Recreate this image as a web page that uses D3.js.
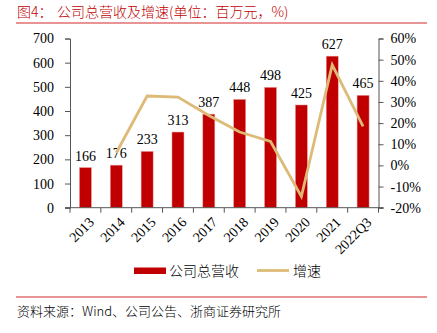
<!DOCTYPE html>
<html><head><meta charset="utf-8">
<script src="https://cdn.jsdelivr.net/npm/d3@7"></script>
<style>
body{margin:0;background:#fff;}
svg{display:block;}
</style></head>
<body>
<svg id="c" width="437" height="333"></svg>
<script>
const categories = ["2013","2014","2015","2016","2017","2018","2019","2020","2021","2022Q3"];
const revenue = [166,176,233,313,387,448,498,425,627,465];
const growth = [null,6.0,32.8,32.3,23.6,15.8,11.3,-14.7,47.5,18.4];
const leftTicks = [0,100,200,300,400,500,600,700];
const rightTicks = [-20,-10,0,10,20,30,40,50,60];

const svg = d3.select("#c");
const serif = "'Liberation Serif','Times New Roman',serif";
const cjk = "'Noto Sans CJK SC',sans-serif";
const x0 = 70, x1 = 378.5, yTop = 38.5, yBot = 207.7;

// Title
svg.append("text").attr("x",17).attr("y",17).attr("fill","#C00000")
  .style("font-family",cjk).style("font-size","14px").style("font-weight","300")
  .text("图4：");
svg.append("text").attr("x",57).attr("y",17).attr("fill","#C00000")
  .style("font-family",cjk).style("font-size","14px").style("font-weight","300")
  .text("公司总营收及增速(单位：百万元，%)");
svg.append("line").attr("x1",16).attr("x2",427).attr("y1",23).attr("y2",23)
  .attr("stroke","#E07070").attr("stroke-width",1.5);

const x = d3.scaleBand().domain(categories).range([x0,x1]).paddingInner(0).paddingOuter(0);
const y = d3.scaleLinear().domain([0,700]).range([yBot,yTop]);
const y2 = d3.scaleLinear().domain([-20,60]).range([yBot,yTop]);

// bars
const bw = 12;
svg.append("g").selectAll("rect").data(revenue).join("rect")
  .attr("x",(d,i)=>x(categories[i])+x.bandwidth()/2-bw/2)
  .attr("width",bw)
  .attr("y",d=>y(d)).attr("height",d=>yBot-y(d))
  .attr("fill","#C00000").attr("stroke","#F0A0A0").attr("stroke-width",0.5);

// labels
svg.append("g").selectAll("text").data(revenue).join("text")
  .attr("x",(d,i)=>x(categories[i])+x.bandwidth()/2)
  .attr("y",d=>y(d)-7)
  .attr("text-anchor","middle")
  .style("font-family",serif).style("font-size","14px").attr("fill","#000")
  .text(d=>d);

// line
const pts = growth.map((g,i)=>[g,i]).filter(p=>p[0]!==null);
svg.append("path")
  .attr("d",d3.line().x(p=>x(categories[p[1]])+x.bandwidth()/2).y(p=>y2(p[0]))(pts))
  .attr("fill","none").attr("stroke","#DDBB77").attr("stroke-width",2.8);

// left axis
const la = svg.append("g").attr("transform",`translate(${x0},0)`)
  .call(d3.axisLeft(y).tickValues(leftTicks).tickSize(5).tickPadding(11));
la.selectAll("text").style("font-family",serif).style("font-size","14px").attr("fill","#000");
la.select(".domain").attr("stroke","#555");
la.selectAll(".tick line").attr("stroke","#555");

// right axis
const ra = svg.append("g").attr("transform",`translate(${x1},0)`)
  .call(d3.axisRight(y2).tickValues(rightTicks).tickSize(5).tickPadding(7).tickFormat(d=>d+"%"));
ra.selectAll("text").style("font-family",serif).style("font-size","14px").attr("fill","#000");
ra.select(".domain").attr("stroke","#555");
ra.selectAll(".tick line").attr("stroke","#555");

// bottom axis
const ba = svg.append("g");
ba.append("line").attr("x1",x0-5).attr("x2",x1+5).attr("y1",yBot).attr("y2",yBot).attr("stroke","#555");
const bounds = categories.map(c=>x(c)).concat([x1]);
ba.selectAll("line.t").data(bounds).join("line").attr("class","t")
  .attr("x1",d=>d).attr("x2",d=>d).attr("y1",yBot).attr("y2",yBot+5).attr("stroke","#555");
ba.selectAll("text").data(categories).join("text")
  .attr("transform",d=>`translate(${x(d)+x.bandwidth()/2+6},${yBot+12}) rotate(-45)`)
  .attr("text-anchor","end").attr("dy","0.35em")
  .style("font-family",serif).style("font-size","14px").attr("fill","#000")
  .text(d=>d);

// legend
svg.append("rect").attr("x",134).attr("y",267.5).attr("width",32).attr("height",6.5).attr("fill","#C00000");
svg.append("text").attr("x",169).attr("y",276).style("font-family",cjk).style("font-size","14px").style("font-weight","300").text("公司总营收");
svg.append("line").attr("x1",257).attr("x2",289).attr("y1",270.5).attr("y2",270.5).attr("stroke","#DDBB77").attr("stroke-width",2.8);
svg.append("text").attr("x",293).attr("y",276).style("font-family",cjk).style("font-size","14px").style("font-weight","300").text("增速");

// footer
svg.append("line").attr("x1",16).attr("x2",427).attr("y1",297).attr("y2",297)
  .attr("stroke","#E07070").attr("stroke-width",1.5);
svg.append("text").attr("x",17).attr("y",316).style("font-family",cjk).style("font-size","13px").style("font-weight","300").attr("fill","#000")
  .text("资料来源：Wind、公司公告、浙商证券研究所");
</script>
</body></html>
